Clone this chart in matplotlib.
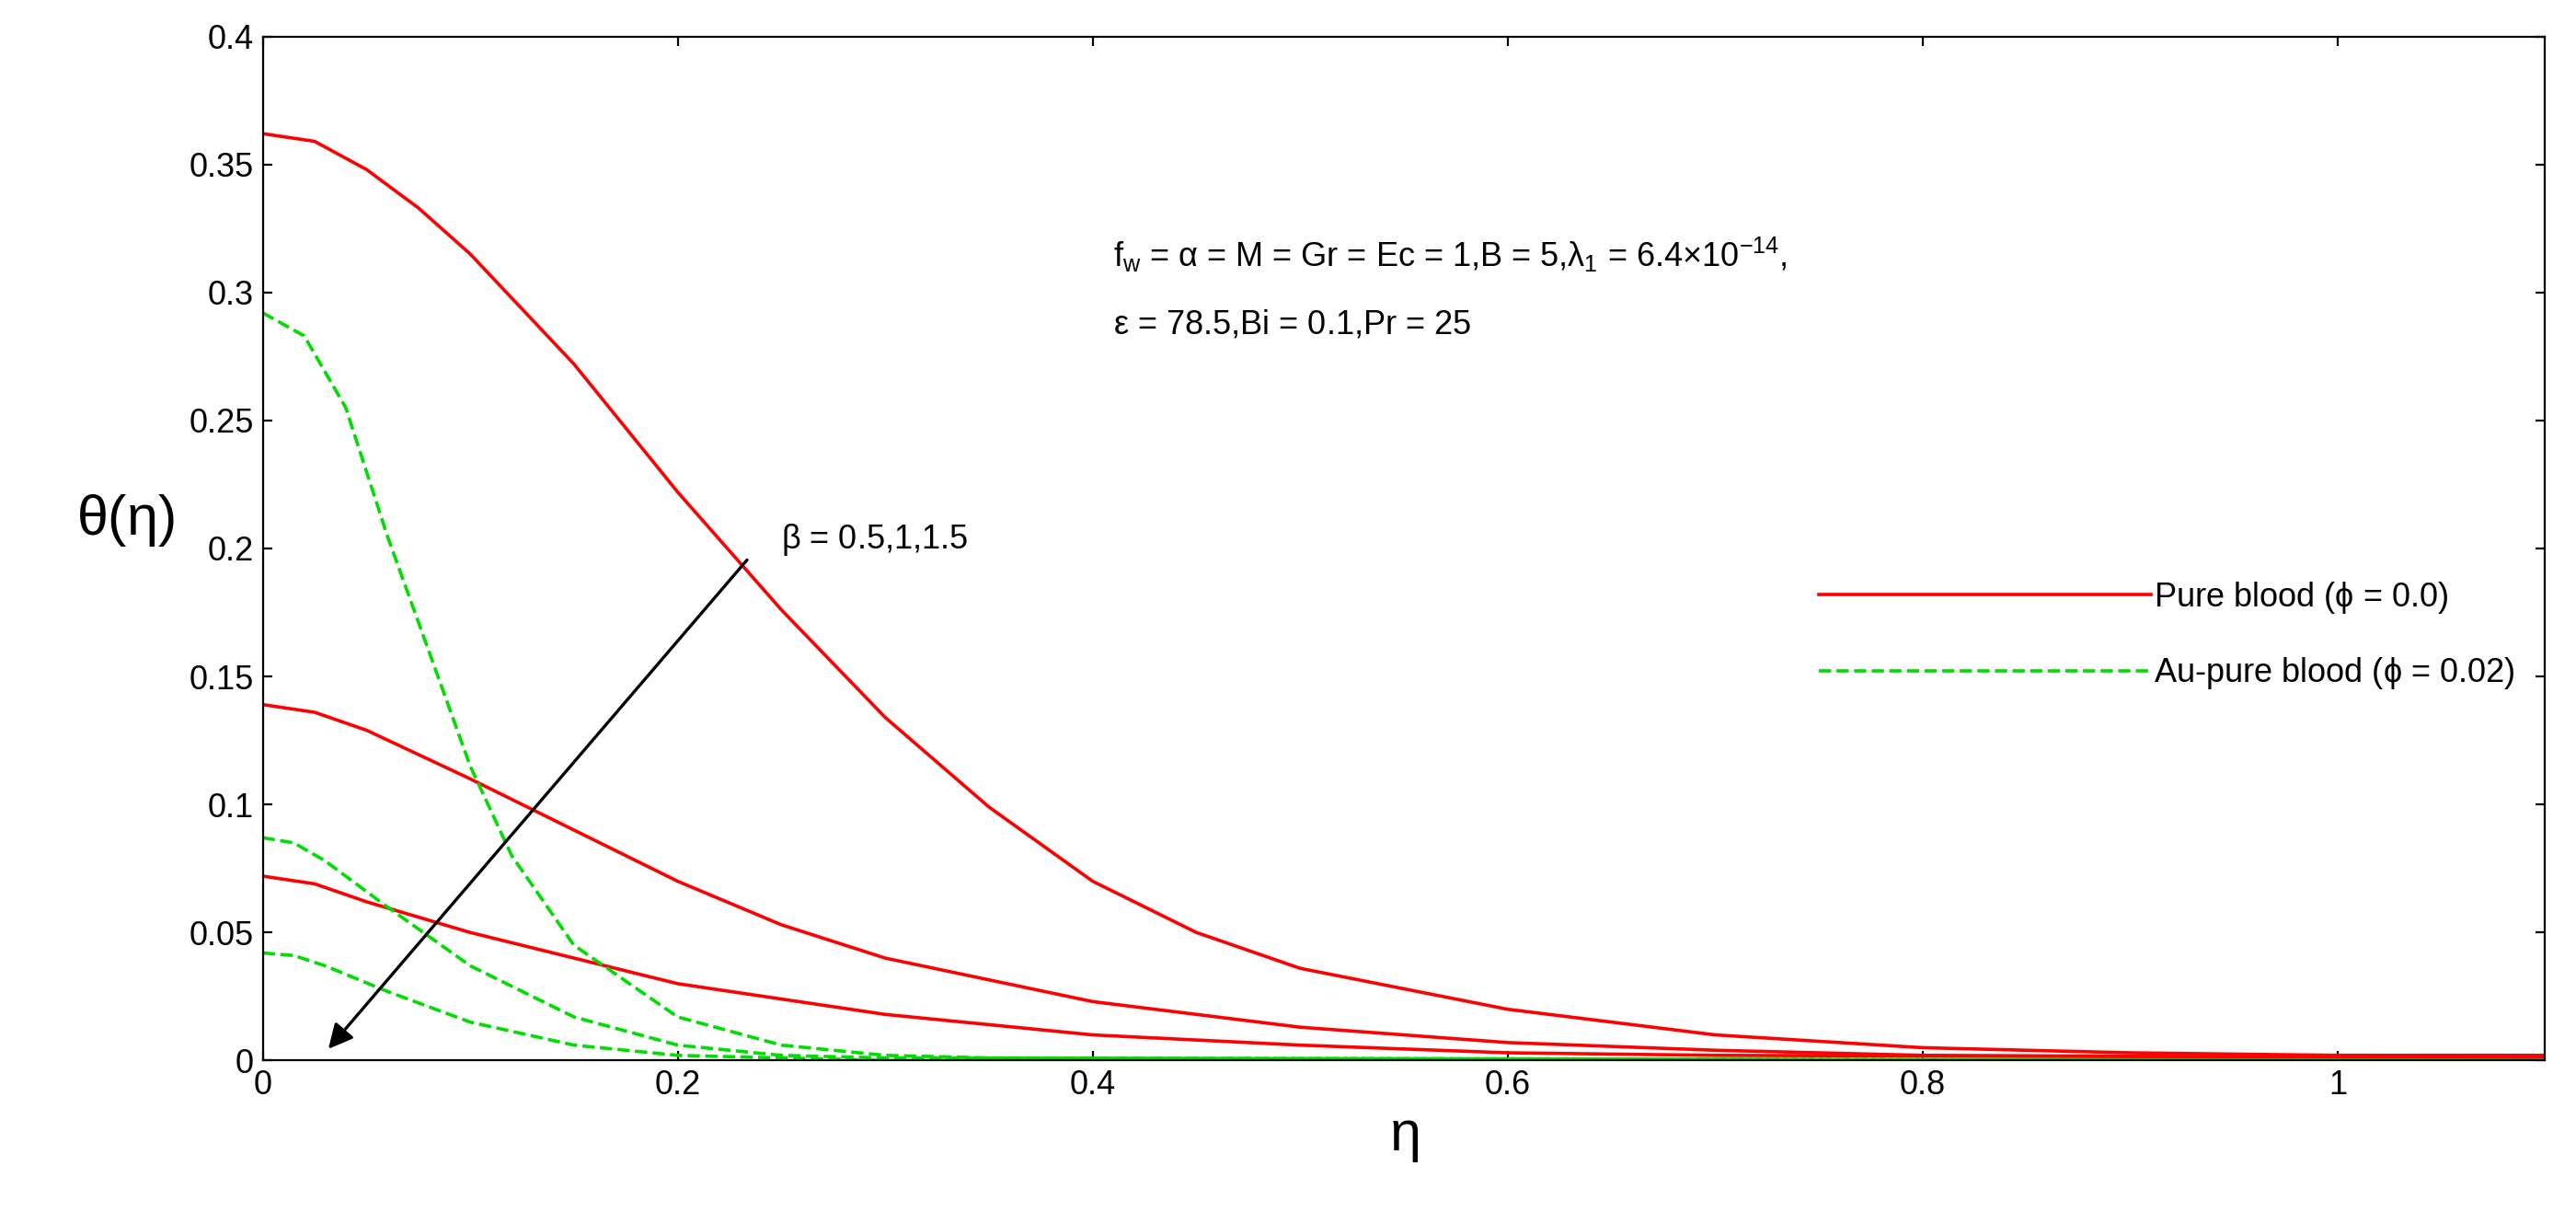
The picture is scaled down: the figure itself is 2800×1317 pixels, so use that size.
import matplotlib
matplotlib.use("Agg")
import matplotlib.pyplot as plt

plt.rcParams['font.family'] = ['Liberation Sans', 'DejaVu Sans']
plt.rcParams['mathtext.fontset'] = 'custom'
plt.rcParams['mathtext.rm'] = 'Liberation Sans'
plt.rcParams['mathtext.it'] = 'Liberation Sans'

# Pure blood (phi = 0.0), beta = 0.5, 1, 1.5
red_x1 = [0, 0.025, 0.05, 0.075, 0.1, 0.15, 0.2, 0.25, 0.3, 0.35, 0.4, 0.45, 0.5, 0.6, 0.7, 0.8, 0.9, 1.0, 1.1]
red_y1 = [0.362, 0.359, 0.348, 0.333, 0.315, 0.272, 0.222, 0.176, 0.134, 0.099, 0.07, 0.05, 0.036, 0.02, 0.01, 0.005, 0.003, 0.002, 0.002]
red_x2 = [0, 0.025, 0.05, 0.1, 0.15, 0.2, 0.25, 0.3, 0.4, 0.5, 0.6, 0.7, 0.8, 1.1]
red_y2 = [0.139, 0.136, 0.129, 0.11, 0.09, 0.07, 0.053, 0.04, 0.023, 0.013, 0.007, 0.004, 0.002, 0.001]
red_x3 = [0, 0.025, 0.05, 0.1, 0.15, 0.2, 0.3, 0.4, 0.5, 0.6, 0.7, 1.1]
red_y3 = [0.072, 0.069, 0.062, 0.05, 0.04, 0.03, 0.018, 0.01, 0.006, 0.003, 0.002, 0.001]

# Au-pure blood (phi = 0.02)
grn_x1 = [0, 0.02, 0.04, 0.06, 0.08, 0.1, 0.12, 0.15, 0.2, 0.25, 0.3, 0.35, 1.1]
grn_y1 = [0.292, 0.283, 0.255, 0.205, 0.16, 0.115, 0.08, 0.045, 0.017, 0.006, 0.002, 0.001, 0.0]
grn_x2 = [0, 0.015, 0.03, 0.06, 0.1, 0.15, 0.2, 0.25, 0.3, 1.1]
grn_y2 = [0.087, 0.085, 0.078, 0.06, 0.037, 0.017, 0.006, 0.002, 0.001, 0.0]
grn_x3 = [0, 0.015, 0.03, 0.06, 0.1, 0.15, 0.2, 0.3, 1.1]
grn_y3 = [0.042, 0.041, 0.037, 0.027, 0.015, 0.006, 0.002, 0.0, 0.0]

fig = plt.figure(figsize=(14, 6.585), dpi=200)
ax = fig.add_axes([0.102, 0.125, 0.886, 0.845])

ax.plot(red_x1, red_y1, color='red', lw=1.3, label='Pure blood ($\\phi$ = 0.0)')
ax.plot(red_x2, red_y2, color='red', lw=1.3)
ax.plot(red_x3, red_y3, color='red', lw=1.3)
ax.plot(grn_x1, grn_y1, color='#00dd00', lw=1.3, ls='--', label='Au-pure blood ($\\phi$ = 0.02)')
ax.plot(grn_x2, grn_y2, color='#00dd00', lw=1.3, ls='--')
ax.plot(grn_x3, grn_y3, color='#00dd00', lw=1.3, ls='--')

ax.set_xlim(0, 1.1)
ax.set_ylim(0, 0.4)
ax.set_yticks([0, 0.05, 0.1, 0.15, 0.2, 0.25, 0.3, 0.35, 0.4])
ax.set_yticklabels(['0', '0.05', '0.1', '0.15', '0.2', '0.25', '0.3', '0.35', '0.4'])
ax.set_xticks([0, 0.2, 0.4, 0.6, 0.8, 1.0])
ax.set_xticklabels(['0', '0.2', '0.4', '0.6', '0.8', '1'])
ax.tick_params(labelsize=13, direction='in', top=True, right=True)
ax.set_xlabel('$\\eta$', fontsize=22)
ax.set_ylabel('$\\theta(\\eta)$', fontsize=22, rotation=0, labelpad=25)

ax.legend(loc='center right', bbox_to_anchor=(1.0, 0.415), frameon=False,
          fontsize=13, handlelength=10, handletextpad=0.1, labelspacing=1.2)

ax.annotate('', xy=(0.03, 0.003), xytext=(0.235, 0.197),
            arrowprops=dict(arrowstyle='-|>', color='black', lw=1.2, mutation_scale=20))
ax.text(0.25, 0.2, '$\\beta$ = 0.5,1,1.5', fontsize=13)
ax.text(0.41, 0.31, '$f_w$ = $\\alpha$ = M = Gr = Ec = 1,B = 5,$\\lambda_1$ = 6.4$\\times$10$^{-14}$,', fontsize=13)
ax.text(0.41, 0.284, '$\\epsilon$ = 78.5,Bi = 0.1,Pr = 25', fontsize=13)

fig.savefig('out.png')
